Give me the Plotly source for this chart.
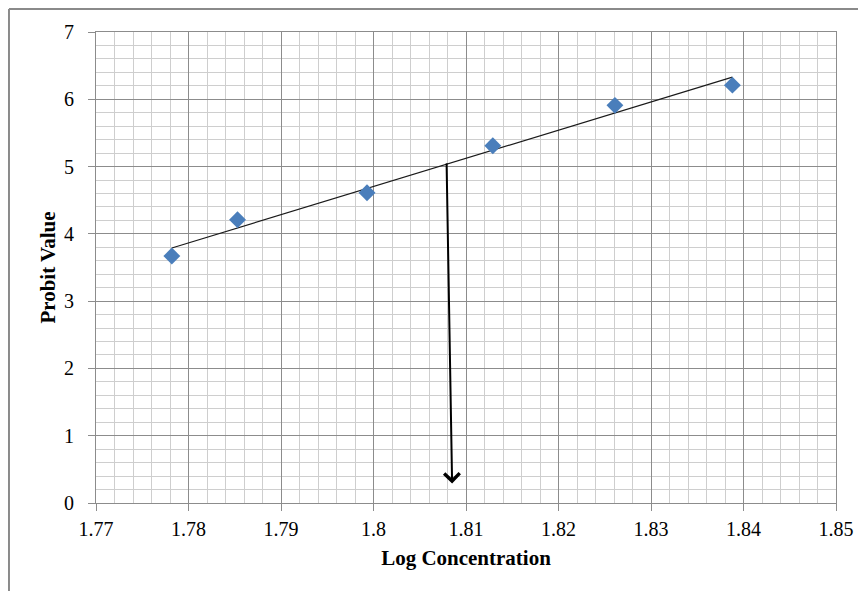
import numpy as np
import plotly.graph_objects as go

# Data
log_conc = [1.7782, 1.7853, 1.7993, 1.8129, 1.8261, 1.8388]
probit = [3.67, 4.21, 4.61, 5.31, 5.91, 6.21]

# LC50 arrow: start on trend line, end near x axis
arrow_start = [1.8079, 5.07]
arrow_end = [1.8085, 0.29]

x_title = "Log Concentration"
y_title = "Probit Value"

# Linear trend line fitted to the data
slope, intercept = np.polyfit(log_conc, probit, 1)
trend_x = [min(log_conc), max(log_conc)]
trend_y = [slope * v + intercept for v in trend_x]

font_family = "Liberation Serif, Times New Roman, serif"
major_grid = "#8c8c8c"
minor_grid = "#cecece"

fig = go.Figure()

fig.add_trace(go.Scatter(
    x=trend_x, y=trend_y, mode="lines",
    line=dict(color="#1a1a1a", width=1.2),
    showlegend=False, hoverinfo="skip",
))

fig.add_trace(go.Scatter(
    x=log_conc, y=probit, mode="markers",
    marker=dict(symbol="diamond", size=13, color="#4a7ebb",
                line=dict(width=0)),
    showlegend=False,
))

fig.add_annotation(
    x=arrow_end[0], y=arrow_end[1], xref="x", yref="y",
    ax=arrow_start[0], ay=arrow_start[1], axref="x", ayref="y",
    text="", showarrow=True, arrowhead=4, arrowsize=1.5,
    arrowwidth=2, arrowcolor="#000000", standoff=0, startstandoff=0,
)

# Outer chart frame
fig.add_shape(type="line", xref="paper", yref="paper",
              x0=-0.1176, x1=-0.1176, y0=-0.4, y1=1.0488,
              line=dict(color="#8a8a8a", width=2))
fig.add_shape(type="line", xref="paper", yref="paper",
              x0=-0.1176, x1=1.2, y0=1.0488, y1=1.0488,
              line=dict(color="#8a8a8a", width=2))

# The page body adds an 8px offset, so the figure is 8px smaller on each axis
fig.update_layout(
    width=858, height=583,
    margin=dict(l=88, r=30, t=24, b=88, autoexpand=False),
    paper_bgcolor="white", plot_bgcolor="white",
    font=dict(family=font_family, color="#000000"),
    showlegend=False,
)

fig.update_xaxes(
    range=[1.77, 1.85], automargin=False,
    tickvals=[1.77, 1.78, 1.79, 1.80, 1.81, 1.82, 1.83, 1.84, 1.85],
    ticktext=["1.77", "1.78", "1.79", "1.8", "1.81", "1.82", "1.83", "1.84", "1.85"],
    showgrid=True, gridcolor=major_grid, gridwidth=1,
    showline=True, linecolor=major_grid, linewidth=1, mirror=True,
    ticks="outside", ticklen=7, tickcolor=major_grid, tickwidth=1,
    ticklabelstandoff=1,
    tickfont=dict(size=20, family=font_family, color="#000000"),
    zeroline=False,
    minor=dict(dtick=0.002, tick0=1.77, showgrid=True, gridcolor=minor_grid, gridwidth=1, ticks=""),
    title=dict(text="<b>" + x_title + "</b>", font=dict(size=21, family=font_family, color="#000000"), standoff=11),
)

fig.update_yaxes(
    range=[0, 7], dtick=1, tick0=0, automargin=False,
    showgrid=True, gridcolor=major_grid, gridwidth=1,
    showline=True, linecolor=major_grid, linewidth=1, mirror=True,
    ticks="outside", ticklen=7, tickcolor=major_grid, tickwidth=1,
    ticklabelstandoff=10,
    tickfont=dict(size=20, family=font_family, color="#000000"),
    zeroline=False,
    minor=dict(dtick=0.2, tick0=0, showgrid=True, gridcolor=minor_grid, gridwidth=1, ticks=""),
    title=dict(text="<b>" + y_title + "</b>", font=dict(size=21, family=font_family, color="#000000"), standoff=2),
)

fig.write_html("out.html")
